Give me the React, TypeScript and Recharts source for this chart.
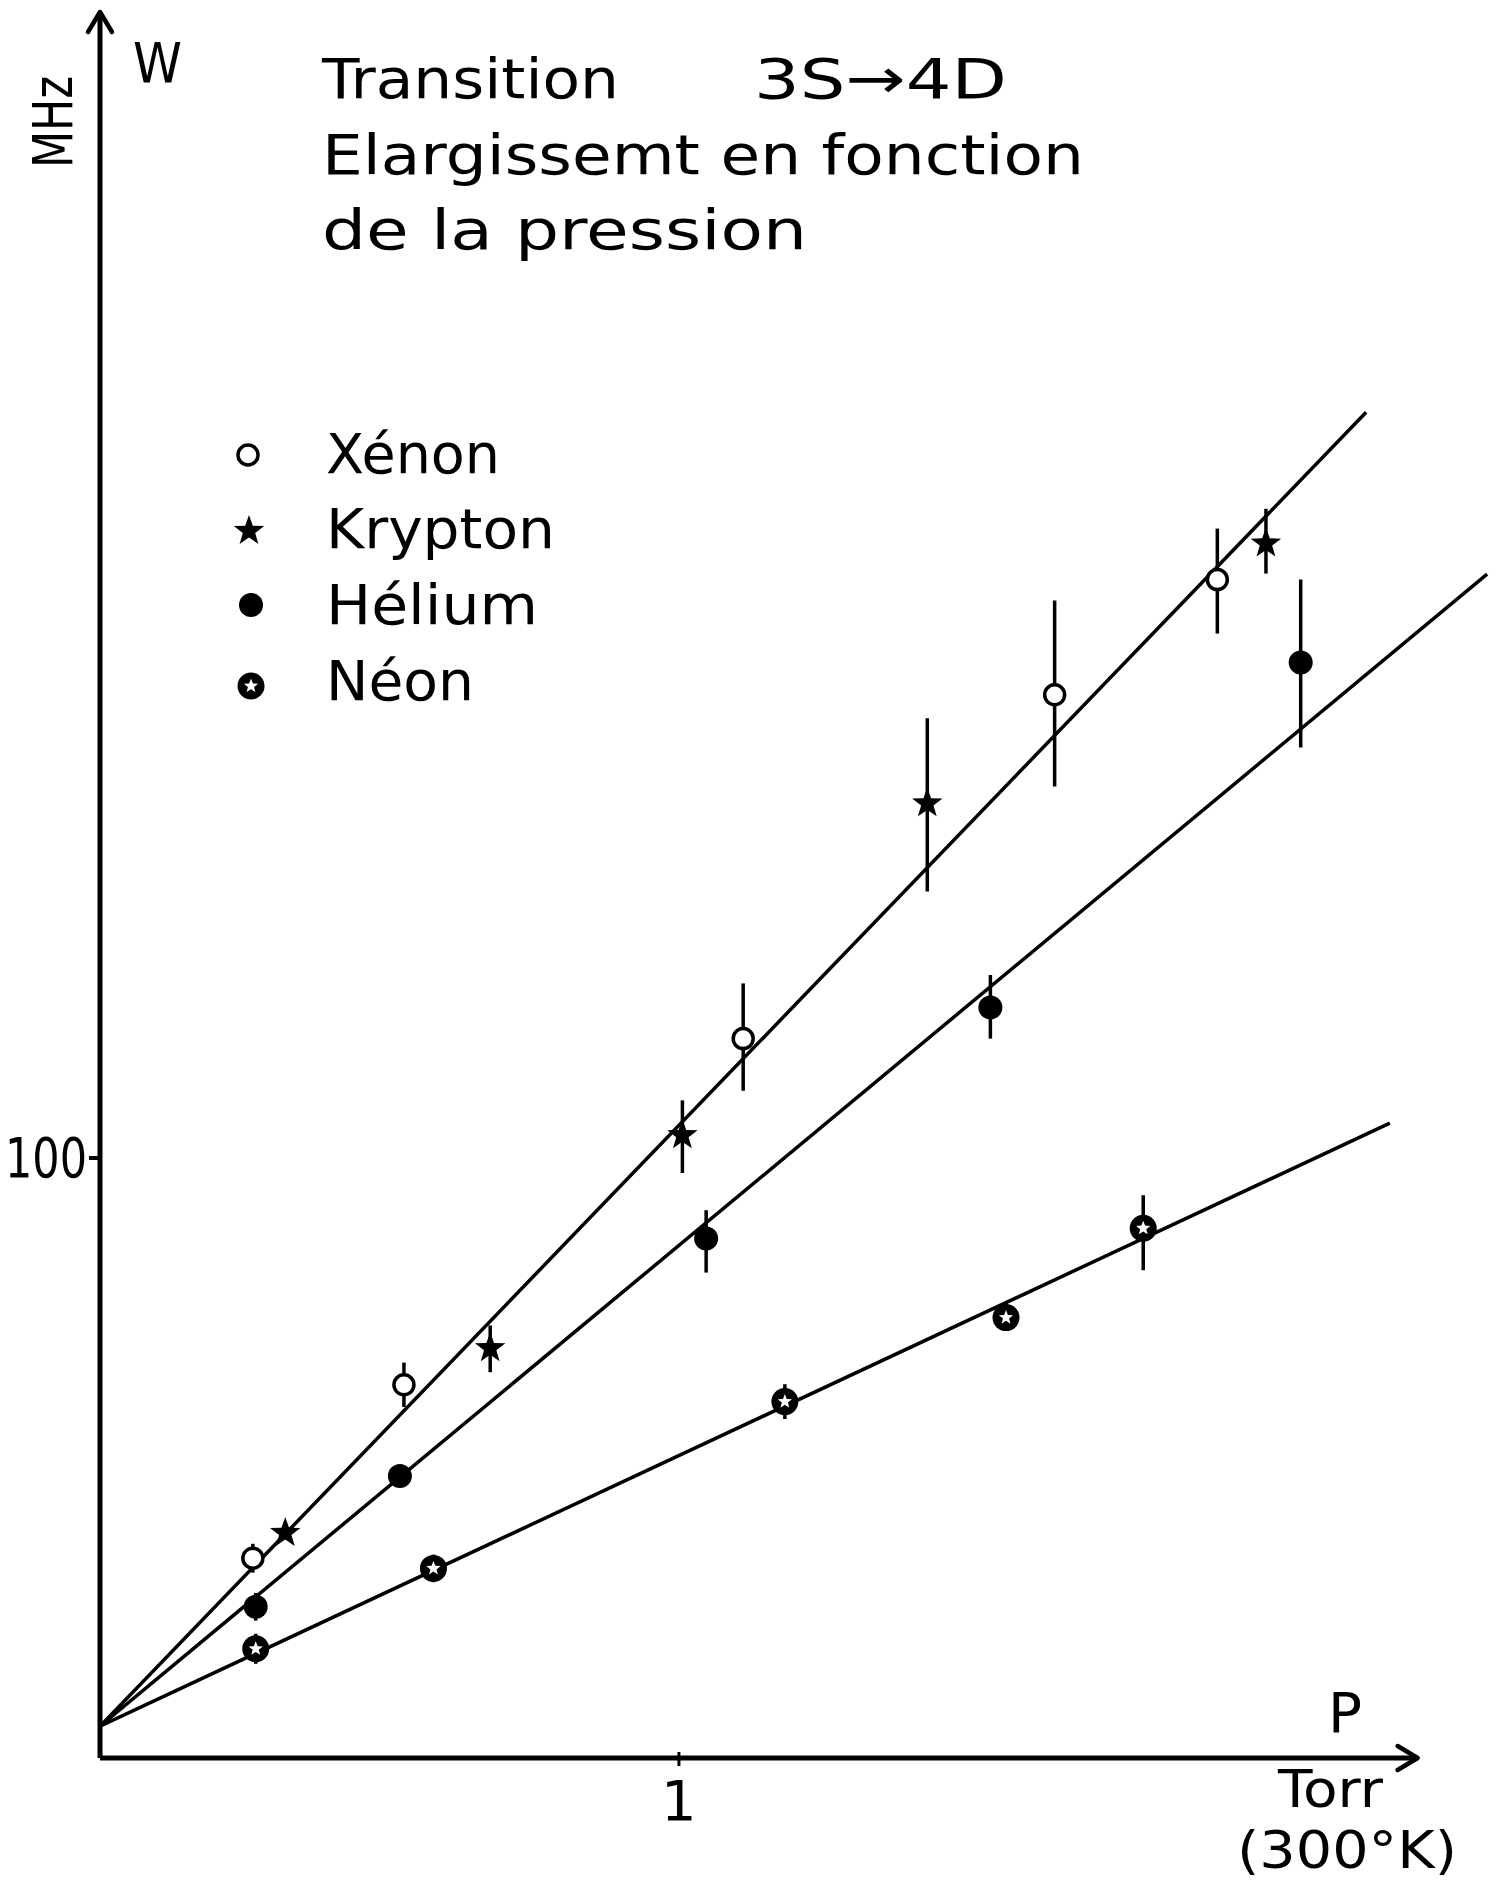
import React from "react";
import {
  ComposedChart,
  XAxis,
  YAxis,
  Line,
  Scatter,
  ErrorBar,
  ReferenceLine,
} from "recharts";

// Pressure P in Torr (300 K), width W in MHz, err = [below, above] in MHz
const xenon = [
  { p: 0.264, w: 33.3, err: [2.4, 2.4] },
  { p: 0.525, w: 62.2, err: [3.7, 3.7] },
  { p: 1.111, w: 119.9, err: [8.7, 9.2] },
  { p: 1.649, w: 177.2, err: [15.3, 15.7] },
  { p: 1.93, w: 196.4, err: [9.0, 8.5] },
];

const krypton = [
  { p: 0.32, w: 37.5, err: [0, 0] },
  { p: 0.674, w: 68.3, err: [4.0, 3.8] },
  { p: 1.006, w: 103.8, err: [6.3, 5.8] },
  { p: 1.429, w: 159.1, err: [14.7, 14.2] },
  { p: 2.014, w: 202.4, err: [5.0, 5.8] },
];

const helium = [
  { p: 0.269, w: 25.2, err: [2.3, 2.3] },
  { p: 0.518, w: 47.0, err: [0, 0] },
  { p: 1.047, w: 86.6, err: [5.7, 4.7] },
  { p: 1.538, w: 125.1, err: [5.2, 5.4] },
  { p: 2.074, w: 182.6, err: [14.2, 13.8] },
];

const neon = [
  { p: 0.269, w: 18.2, err: [2.5, 2.5] },
  { p: 0.576, w: 31.6, err: [2.3, 2.3] },
  { p: 1.183, w: 59.4, err: [2.9, 2.9] },
  { p: 1.565, w: 73.4, err: [0, 2.6] },
  { p: 1.802, w: 88.3, err: [7.0, 5.5] },
];

// hand drawn fit lines (end points)
const xeKrFit = [
  { p: 0, w: 5.3 },
  { p: 2.187, w: 224.3 },
];
const heFit = [
  { p: 0, w: 5.3 },
  { p: 2.396, w: 197.3 },
];
const neFit = [
  { p: 0, w: 5.3 },
  { p: 2.228, w: 105.8 },
];

const pTicks = [1];
const wTicks = [100];
const pAxisEnd = 2.276;
const wAxisEnd = 291;

const WIDTH = 1504;
const HEIGHT = 1883;
const PLOT_LEFT = 100;
const PLOT_BOTTOM = 1758;
const FONT = "'DejaVu Sans', sans-serif";
const FS = 56;

const starPoints = (cx: number, cy: number, R: number, r: number) => {
  const pts: string[] = [];
  for (let i = 0; i < 10; i++) {
    const a = -Math.PI / 2 + (i * Math.PI) / 5;
    const rad = i % 2 === 0 ? R : r;
    pts.push(`${cx + rad * Math.cos(a)},${cy + rad * Math.sin(a)}`);
  }
  return pts.join(" ");
};

const OpenDot = (p: any) => (
  <circle cx={p.cx} cy={p.cy} r={10} fill="#fff" stroke="#000" strokeWidth={3.5} />
);
const StarDot = (p: any) => (
  <polygon points={starPoints(p.cx, p.cy, 16, 6.5)} fill="#000" />
);
const FilledDot = (p: any) => <circle cx={p.cx} cy={p.cy} r={12} fill="#000" />;
const NeonDot = (p: any) => (
  <g>
    <circle cx={p.cx} cy={p.cy} r={13.5} fill="#000" />
    <polygon points={starPoints(p.cx, p.cy, 7.5, 3.2)} fill="#fff" />
  </g>
);

// axis line with an open arrow head at its far end
const AxisArrow = (p: any) => {
  const { x1, y1, x2, y2 } = p;
  const dx = x2 - x1;
  const dy = y2 - y1;
  const len = Math.hypot(dx, dy) || 1;
  const ux = dx / len;
  const uy = dy / len;
  const bx = x2 - ux * 20;
  const by = y2 - uy * 20;
  const half = 12;
  const w1 = `${bx - uy * half},${by + ux * half}`;
  const w2 = `${bx + uy * half},${by - ux * half}`;
  return (
    <g>
      <line x1={x1} y1={y1} x2={x2} y2={y2} stroke="#000" strokeWidth={5} />
      <polyline
        points={`${w1} ${x2},${y2} ${w2}`}
        fill="none"
        stroke="#000"
        strokeWidth={4.5}
        strokeLinecap="round"
        strokeLinejoin="round"
      />
    </g>
  );
};

const WTick = (p: any) => (
  <g>
    <line x1={PLOT_LEFT - 11} y1={p.y} x2={PLOT_LEFT} y2={p.y} stroke="#000" strokeWidth={4} />
    <text
      x={PLOT_LEFT - 13}
      y={p.y + 19}
      textAnchor="end"
      fontFamily={FONT}
      fontSize={FS}
      textLength={82}
      lengthAdjust="spacingAndGlyphs"
    >
      {p.payload.value}
    </text>
  </g>
);

const PTick = (p: any) => (
  <g>
    <line x1={p.x} y1={PLOT_BOTTOM - 6} x2={p.x} y2={PLOT_BOTTOM + 8} stroke="#000" strokeWidth={3} />
    <text x={p.x} y={PLOT_BOTTOM + 62} textAnchor="middle" fontFamily={FONT} fontSize={FS}>
      {p.payload.value}
    </text>
  </g>
);

const T = ({ x, y, len, size = FS, children }: any) => (
  <text
    x={x}
    y={y}
    fontFamily={FONT}
    fontSize={size}
    fill="#000"
    textLength={len}
    lengthAdjust="spacingAndGlyphs"
  >
    {children}
  </text>
);

const legendItems = [
  { name: "Xénon", Mark: OpenDot, mx: 248, my: 455, ty: 473, len: 174 },
  { name: "Krypton", Mark: StarDot, mx: 249, my: 531, ty: 548, len: 229 },
  { name: "Hélium", Mark: FilledDot, mx: 251, my: 605, ty: 624, len: 212 },
  { name: "Néon", Mark: NeonDot, mx: 251, my: 686, ty: 700, len: 148 },
];

const errStyle = { stroke: "#000", strokeWidth: 3.5 };

export default function App() {
  return (
    <div
      style={{
        position: "absolute",
        left: 0,
        top: 0,
        width: WIDTH,
        height: HEIGHT,
        background: "#fff",
        fontFamily: FONT,
      }}
    >
      <ComposedChart
        width={WIDTH}
        height={HEIGHT}
        margin={{ top: 0, right: 3, bottom: 0, left: 0 }}
      >
        <XAxis
          type="number"
          dataKey="p"
          domain={[0, 2.42]}
          ticks={pTicks}
          height={125}
          axisLine={false}
          tickLine={false}
          tick={(p: any) => <PTick {...p} />}
          allowDataOverflow
        />
        <YAxis
          type="number"
          dataKey="w"
          domain={[0, 293]}
          ticks={wTicks}
          width={100}
          axisLine={false}
          tickLine={false}
          tick={(p: any) => <WTick {...p} />}
          allowDataOverflow
        />
        <ReferenceLine
          segment={[{ x: 0, y: 0 }, { x: pAxisEnd, y: 0 }]}
          shape={AxisArrow}
          ifOverflow="visible"
        />
        <ReferenceLine
          segment={[{ x: 0, y: 0 }, { x: 0, y: wAxisEnd }]}
          shape={AxisArrow}
          ifOverflow="visible"
        />
        <Line data={xeKrFit} dataKey="w" type="linear" stroke="#000" strokeWidth={3.5} dot={false} isAnimationActive={false} />
        <Line data={heFit} dataKey="w" type="linear" stroke="#000" strokeWidth={3.5} dot={false} isAnimationActive={false} />
        <Line data={neFit} dataKey="w" type="linear" stroke="#000" strokeWidth={3.5} dot={false} isAnimationActive={false} />
        <Scatter data={xenon} dataKey="w" shape={OpenDot} isAnimationActive={false}>
          <ErrorBar dataKey="err" direction="y" width={0} {...errStyle} />
        </Scatter>
        <Scatter data={krypton} dataKey="w" shape={StarDot} isAnimationActive={false}>
          <ErrorBar dataKey="err" direction="y" width={0} {...errStyle} />
        </Scatter>
        <Scatter data={helium} dataKey="w" shape={FilledDot} isAnimationActive={false}>
          <ErrorBar dataKey="err" direction="y" width={0} {...errStyle} />
        </Scatter>
        <Scatter data={neon} dataKey="w" shape={NeonDot} isAnimationActive={false}>
          <ErrorBar dataKey="err" direction="y" width={0} {...errStyle} />
        </Scatter>
      </ComposedChart>

      <svg
        width={WIDTH}
        height={HEIGHT}
        style={{ position: "absolute", left: 0, top: 0, pointerEvents: "none" }}
      >
        <T x={133} y={82} len={49}>W</T>
        <text
          x={72}
          y={122}
          transform="rotate(-90 72 122)"
          textAnchor="middle"
          fontFamily={FONT}
          fontSize={FS}
          textLength={92}
          lengthAdjust="spacingAndGlyphs"
        >
          MHz
        </text>
        <T x={322} y={98} len={297}>Transition</T>
        <T x={754} y={98} len={253}>3S→4D</T>
        <T x={322} y={174} len={762}>Elargissemt en fonction</T>
        <T x={322} y={249} len={485}>de la pression</T>

        {legendItems.map((it) => (
          <g key={it.name}>
            <it.Mark cx={it.mx} cy={it.my} />
            <T x={326} y={it.ty} len={it.len}>{it.name}</T>
          </g>
        ))}

        <T x={1328} y={1732} len={34}>P</T>
        <T x={1278} y={1807} len={105} size={52}>Torr</T>
        <T x={1237} y={1868} len={220} size={52}>(300°K)</T>
      </svg>
    </div>
  );
}
